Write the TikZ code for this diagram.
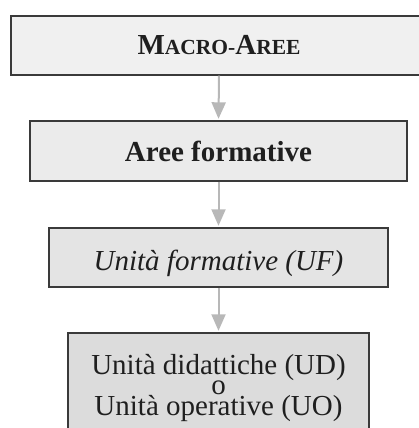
\documentclass[tikz,border=0pt]{standalone}
\usepackage{fontspec}
\setmainfont{Liberation Serif}
\usetikzlibrary{arrows.meta}
\definecolor{bordc}{HTML}{3A3A3A}
\definecolor{arrc}{HTML}{B8B8B8}
\definecolor{fillA}{HTML}{F0F0F0}
\definecolor{fillB}{HTML}{EBEBEB}
\definecolor{fillC}{HTML}{E4E4E4}
\definecolor{fillD}{HTML}{DCDCDC}
\newcommand{\bigsz}{\fontsize{29}{29}\selectfont}
\newcommand{\scsz}{\fontsize{21.5}{21.5}\selectfont}
\tikzset{
  boxnode/.style={draw=bordc, line width=1.4pt, rectangle, inner sep=0pt},
  txt/.style={anchor=base, inner sep=0pt, text=black!88},
  arr/.style={draw=arrc, line width=2pt, -{Triangle[width=14pt,length=16.5pt]}, shorten >=1.5pt}
}
\begin{document}
\begin{tikzpicture}[x=1pt,y=-1pt]
\useasboundingbox (0,0) rectangle (419,428);
\node[boxnode, fill=fillA, minimum width=416pt, minimum height=59pt] (b1) at (219,45.5) {};
\node[boxnode, fill=fillB, minimum width=377pt, minimum height=60pt] (b2) at (218.5,151) {};
\node[boxnode, fill=fillC, minimum width=339pt, minimum height=59pt] (b3) at (218.5,257.5) {};
\node[boxnode, fill=fillD, minimum width=301pt, minimum height=120pt] (b4) at (218.5,393) {};
\node[txt] (t1) at (219,54.3) {\bfseries\fontsize{29}{29}\selectfont M\scsz ACRO-\fontsize{29}{29}\selectfont A\scsz REE};
\node[txt] (t2) at (218.5,161.7) {\bfseries\bigsz Aree formative};
\node[txt] (t3) at (218.5,270) {\itshape\bigsz Unità formative (UF)};
\node[txt] (t4a) at (218.5,374.3) {\bigsz Unità didattiche (UD)};
\node[txt] (t4b) at (218.5,394.3) {\bigsz o};
\node[txt] (t4c) at (218.5,415) {\bigsz Unità operative (UO)};
\draw[arr] (b1.south) -- (b2.north);
\draw[arr] (b2.south) -- (b3.north);
\draw[arr] (b3.south) -- (b4.north);
\end{tikzpicture}
\end{document}
